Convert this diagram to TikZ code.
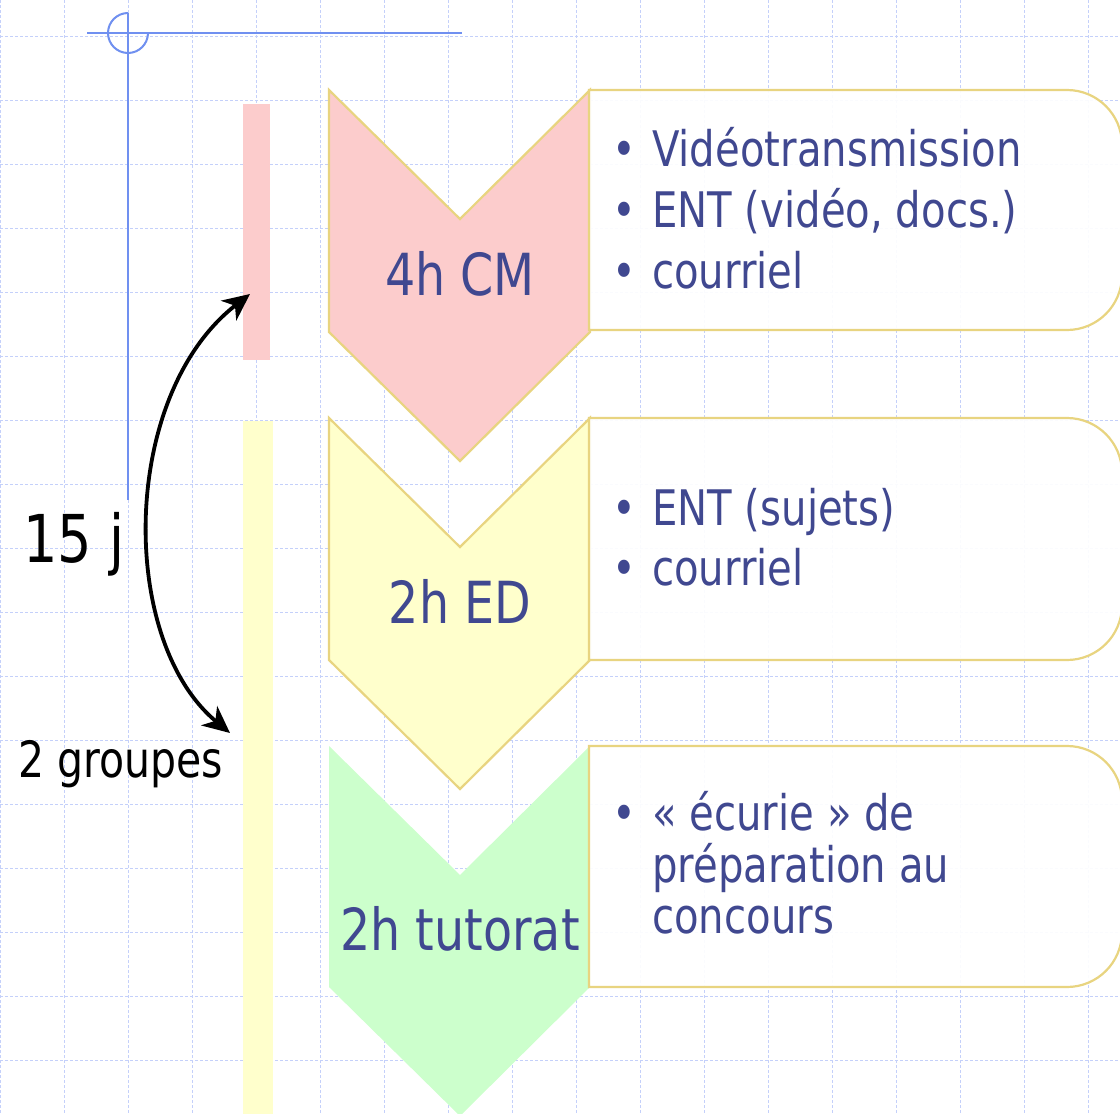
\documentclass[tikz,border=0pt]{standalone}
\usepackage{fontspec}
\setmainfont{DejaVu Sans}[FakeStretch=0.82]
\usetikzlibrary{arrows.meta}
\definecolor{gridc}{RGB}{196,208,250}
\definecolor{crossc}{RGB}{112,144,240}
\definecolor{pinkc}{RGB}{252,204,204}
\definecolor{yelc}{RGB}{255,255,204}
\definecolor{greenc}{RGB}{204,255,204}
\definecolor{borderc}{RGB}{232,212,128}
\definecolor{txtc}{RGB}{64,72,144}
\newcommand\mybul{\makebox[40pt][l]{•}}
\begin{document}
\begin{tikzpicture}[x=1pt,y=-1pt,
  gridline/.style={draw=gridc, line width=1pt, dash pattern=on 3pt off 2pt},
  crossline/.style={draw=crossc, line width=2pt},
  barbox/.style={anchor=north west, inner sep=0pt, outer sep=0pt, draw=none},
  chev/.style={line width=2.2pt, line join=miter},
  infobox/.style={draw=borderc, line width=2.2pt, fill=white, fill opacity=0.93},
  boxtxt/.style={anchor=base west, inner sep=0pt, text=txtc, font=\fontsize{49}{58}\selectfont},
  chevtxt/.style={anchor=base, inner sep=0pt, text=txtc, font=\fontsize{58}{66}\selectfont},
  sidetxt/.style={anchor=base west, inner sep=0pt, text=black}
]
\useasboundingbox (0,0) rectangle (1120,1114);
\fill[white] (0,0) rectangle (1120,1114);
% grid
\foreach \gx in {0,64,...,1088} \draw[gridline] (\gx,0) -- (\gx,1114);
\foreach \gy in {36,100,...,1060} \draw[gridline] (0,\gy) -- (1120,\gy);
% crosshair
\draw[crossline] (87,33) -- (462,33);
\draw[crossline] (128,13) -- (128,500);
\draw[crossline] (128,13) arc[start angle=270, end angle=0, radius=20];
% bars
\node[barbox, fill=pinkc, minimum width=27pt, minimum height=256pt] (barCM) at (243,104) {};
\node[barbox, fill=yelc, minimum width=30pt, minimum height=694pt] (barED) at (243,421) {};
% chevrons
\draw[chev, draw=borderc, fill=pinkc] (329,90) -- (460,219) -- (590,90) -- (590,332) -- (460,461) -- (329,332) -- cycle;
\draw[chev, draw=borderc, fill=yelc] (329,418) -- (460,547) -- (590,418) -- (590,660) -- (460,789) -- (329,660) -- cycle;
\fill[greenc] (329,746) -- (460,875) -- (590,746) -- (590,987) -- (460,1116) -- (329,987) -- cycle;
\node[chevtxt] (cm) at (460,295) {4h CM};
\node[chevtxt] (ed) at (460,623) {2h ED};
\node[chevtxt] (tut) at (460,950) {2h tutorat};
% info boxes
\draw[infobox] (589,90) -- (1067,90) arc[start angle=270, end angle=360, radius=55] -- (1122,275) arc[start angle=0, end angle=90, radius=55] -- (589,330) -- cycle;
\draw[infobox] (589,418) -- (1067,418) arc[start angle=270, end angle=360, radius=55] -- (1122,605) arc[start angle=0, end angle=90, radius=55] -- (589,660) -- cycle;
\draw[infobox] (589,746) -- (1067,746) arc[start angle=270, end angle=360, radius=55] -- (1122,932) arc[start angle=0, end angle=90, radius=55] -- (589,987) -- cycle;
\node[boxtxt] (a1) at (612,166) {\mybul Vidéotransmission};
\node[boxtxt] (a2) at (612,227) {\mybul ENT (vidéo, docs.)};
\node[boxtxt] (a3) at (612,288) {\mybul courriel};
\node[boxtxt] (b1) at (612,525) {\mybul ENT (sujets)};
\node[boxtxt] (b2) at (612,585) {\mybul courriel};
\node[boxtxt] (c1) at (612,830) {\mybul « écurie » de};
\node[boxtxt] (c2) at (652,882) {préparation au};
\node[boxtxt] (c3) at (652,933) {concours};
% side labels and arrow
\node[sidetxt, font=\fontsize{66}{72}\selectfont] (quinze) at (23,562) {15 j};
\node[sidetxt, font=\fontsize{50}{56}\selectfont] (groupes) at (18,777) {2 groupes};
\coordinate (aTop) at (250,294);
\coordinate (aBot) at (230,733);
\draw[line width=3.8pt, {Stealth[length=27pt,width=25pt,inset=8pt]}-{Stealth[length=27pt,width=25pt,inset=8pt]}] (aBot) .. controls (118,640) and (120,395) .. (aTop);
\end{tikzpicture}
\end{document}
